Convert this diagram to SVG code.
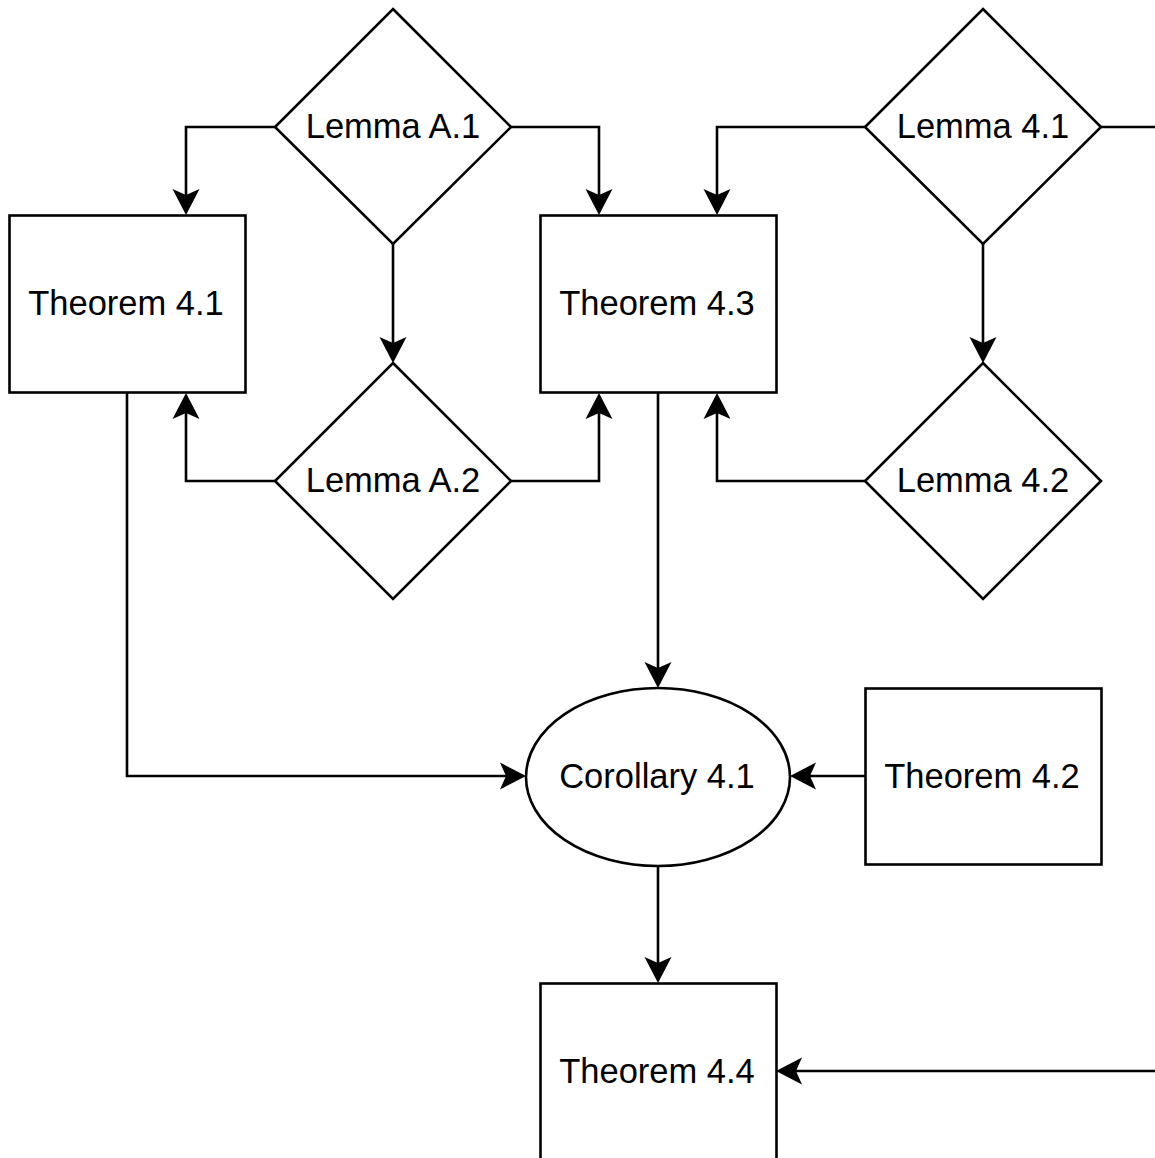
<svg xmlns="http://www.w3.org/2000/svg" width="1155" height="1158" viewBox="0 0 1155 1158">
<style>
.n{fill:#fff;stroke:#000;stroke-width:2.6}
.t{font-family:"Liberation Sans",Arial,sans-serif;font-size:34.5px;fill:#000;text-anchor:middle}
.c{fill:none;stroke:#000;stroke-width:2.6}
</style>
<defs>
<marker id="a" markerUnits="userSpaceOnUse" markerWidth="30" markerHeight="30" refX="6" refY="13.5" orient="auto" overflow="visible">
<path d="M26,13.5 L0,0 L6,13.5 L0,27 Z" fill="#000"/>
</marker>
</defs>
<rect width="1155" height="1158" fill="#fff"/>
<g id="connectors">
<path class="c" d="M275,127 H186 V195" marker-end="url(#a)"/>
<path class="c" d="M511,127 H599 V195" marker-end="url(#a)"/>
<path class="c" d="M393,244 V343" marker-end="url(#a)"/>
<path class="c" d="M275,481 H186 V413" marker-end="url(#a)"/>
<path class="c" d="M511,481 H599 V413" marker-end="url(#a)"/>
<path class="c" d="M865,127 H717 V195" marker-end="url(#a)"/>
<path class="c" d="M1101,127 H1160"/>
<path class="c" d="M983,244 V343" marker-end="url(#a)"/>
<path class="c" d="M865,481 H717 V413" marker-end="url(#a)"/>
<path class="c" d="M658,393 V668" marker-end="url(#a)"/>
<path class="c" d="M127,393 V776 H506" marker-end="url(#a)"/>
<path class="c" d="M865,776 H810" marker-end="url(#a)"/>
<path class="c" d="M658,866 V963" marker-end="url(#a)"/>
<path class="c" d="M1160,1071 H796" marker-end="url(#a)"/>
</g>
<g id="lemmaA1"><polygon class="n" points="393,9 511,127 393,244 275,127"/><text class="t" x="393" y="138">Lemma A.1</text></g>
<g id="lemmaA2"><polygon class="n" points="393,363 511,481 393,599 275,481"/><text class="t" x="393" y="492">Lemma A.2</text></g>
<g id="lemma41"><polygon class="n" points="983,9 1101,127 983,244 865,127"/><text class="t" x="983" y="138">Lemma 4.1</text></g>
<g id="lemma42"><polygon class="n" points="983,363 1101,481 983,599 865,481"/><text class="t" x="983" y="492">Lemma 4.2</text></g>
<g id="theorem41"><rect class="n" x="9.5" y="215.5" width="236" height="177"/><text class="t" x="126" y="315">Theorem 4.1</text></g>
<g id="theorem43"><rect class="n" x="540.5" y="215.5" width="236" height="177"/><text class="t" x="657" y="315">Theorem 4.3</text></g>
<g id="theorem42"><rect class="n" x="865.5" y="688.5" width="236" height="176"/><text class="t" x="982" y="788">Theorem 4.2</text></g>
<g id="corollary41"><ellipse class="n" cx="658" cy="777" rx="132" ry="89"/><text class="t" x="657" y="788">Corollary 4.1</text></g>
<g id="theorem44"><rect class="n" x="540.5" y="983.5" width="236" height="177"/><text class="t" x="657" y="1083">Theorem 4.4</text></g>
</svg>
